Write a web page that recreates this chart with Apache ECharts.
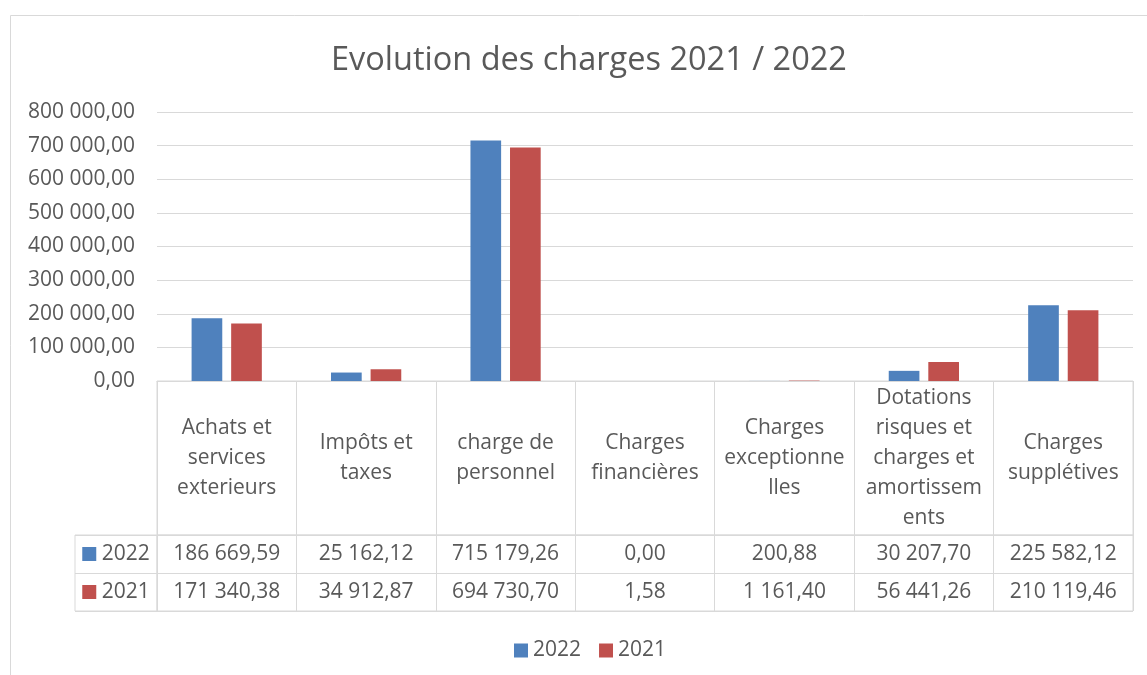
<!DOCTYPE html>
<html>
<head>
<meta charset="utf-8">
<script src="https://cdn.jsdelivr.net/npm/echarts@6/dist/echarts.min.js"></script>
<style>
html,body{margin:0;padding:0;background:#fff}
#main{width:1147px;height:675px}
</style>
</head>
<body>
<div id="main"></div>
<script>
// donnees du graphique
var categories = ['Achats et\nservices\nexterieurs', 'Impôts et\ntaxes', 'charge de\npersonnel', 'Charges\nfinancières', 'Charges\nexceptionne\nlles', 'Dotations\nrisques et\ncharges et\namortissem\nents', 'Charges\nsupplétives'];
var years = ['2022', '2021'];
var values2022 = [186669.59, 25162.12, 715179.26, 0.00, 200.88, 30207.70, 225582.12];
var values2021 = [171340.38, 34912.87, 694730.70, 1.58, 1161.40, 56441.26, 210119.46];
var yMin = 0, yMax = 800000, yStep = 100000;

var colors = ['#4F81BD', '#C0504D'];
var txt = '#595959';
var line = '#d9d9d9';
var font = 'Open Sans';
var fs = 21;

// format francais : 186 669,59
function frNum(v) {
    var parts = Number(v).toFixed(2).split('.');
    return parts[0].replace(/\B(?=(\d{3})+(?!\d))/g, ' ') + ',' + parts[1];
}

var myChart = echarts.init(document.getElementById('main'));

var hiddenAxis = {
    axisLine: {show: false}, axisTick: {show: false}, axisLabel: {show: false}
};
var cellLabel = {
    show: true, position: 'inside', color: txt, fontSize: fs, fontFamily: font,
    lineHeight: 30, formatter: function (p) { return p.name; }
};

var option = {
    animation: false,
    textStyle: {fontFamily: font},
    title: {
        text: 'Evolution des charges 2021 / 2022',
        left: 326,
        top: 39,
        textStyle: {fontSize: 32.5, fontWeight: 'normal', color: txt, fontFamily: font}
    },
    graphic: [{
        type: 'rect', shape: {x: 10.5, y: 15.5, width: 1200, height: 700},
        style: {fill: 'none', stroke: line, lineWidth: 1}, silent: true
    }],
    legend: {
        data: years,
        bottom: 9,
        left: 509,
        icon: 'rect',
        itemWidth: 14,
        itemHeight: 14,
        itemGap: 18,
        textStyle: {fontSize: fs, color: txt, fontFamily: font}
    },
    grid: [
        {left: 157, top: 112, width: 976, height: 269},
        {left: 157, top: 381, width: 976, height: 154, show: true, borderColor: line, borderWidth: 1},
        {left: 157, top: 535, width: 976, height: 76, show: true, borderColor: line, borderWidth: 1},
        {left: 75, top: 535, width: 82, height: 76, show: true, borderColor: line, borderWidth: 1}
    ],
    xAxis: [
        {gridIndex: 0, type: 'category', data: categories,
            axisLine: {lineStyle: {color: line, width: 1}}, axisTick: {show: false}, axisLabel: {show: false}},
        Object.assign({gridIndex: 1, type: 'category', data: categories,
            splitLine: {show: true, interval: 0, lineStyle: {color: line}}}, hiddenAxis),
        Object.assign({gridIndex: 2, type: 'category', data: categories,
            splitLine: {show: true, interval: 0, lineStyle: {color: line}}}, hiddenAxis),
        Object.assign({gridIndex: 3, type: 'category', data: ['serie']}, hiddenAxis)
    ],
    yAxis: [
        {gridIndex: 0, type: 'value', min: yMin, max: yMax, interval: yStep,
            axisLine: {show: false}, axisTick: {show: false},
            axisLabel: {color: txt, fontSize: fs, fontFamily: font, margin: 22,
                formatter: function (v) { return frNum(v); }},
            splitLine: {lineStyle: {color: line, width: 1}}},
        Object.assign({gridIndex: 1, type: 'value', min: -1, max: 1, splitLine: {show: false}}, hiddenAxis),
        Object.assign({gridIndex: 2, type: 'category', data: years, inverse: true,
            splitLine: {show: true, lineStyle: {color: line}}}, hiddenAxis),
        Object.assign({gridIndex: 3, type: 'category', data: years, inverse: true,
            splitLine: {show: true, lineStyle: {color: line}}}, hiddenAxis)
    ],
    series: [
        {name: '2022', type: 'bar', xAxisIndex: 0, yAxisIndex: 0, data: values2022,
            barWidth: '22%', barGap: '29%', itemStyle: {color: colors[0]}},
        {name: '2021', type: 'bar', xAxisIndex: 0, yAxisIndex: 0, data: values2021,
            barWidth: '22%', barGap: '29%', itemStyle: {color: colors[1]}},
        // ligne des categories du tableau
        {name: 'cat', type: 'scatter', xAxisIndex: 1, yAxisIndex: 1, symbolSize: 0, silent: true,
            itemStyle: {opacity: 1},
            data: categories.map(function (c, i) { return {name: c, value: [i, 0]}; }),
            label: cellLabel},
        // valeurs du tableau
        {name: 'tab2022', type: 'scatter', xAxisIndex: 2, yAxisIndex: 2, symbolSize: 0, silent: true,
            itemStyle: {opacity: 1},
            data: values2022.map(function (v, i) { return {name: frNum(v), value: [i, 0]}; }),
            label: cellLabel},
        {name: 'tab2021', type: 'scatter', xAxisIndex: 2, yAxisIndex: 2, symbolSize: 0, silent: true,
            itemStyle: {opacity: 1},
            data: values2021.map(function (v, i) { return {name: frNum(v), value: [i, 1]}; }),
            label: cellLabel},
        // entetes des lignes avec la cle de legende
        {name: 'keys', type: 'scatter', xAxisIndex: 3, yAxisIndex: 3, symbolSize: 0, silent: true,
            itemStyle: {opacity: 1},
            data: years.map(function (y, i) { return {name: y, value: [0, i]}; }),
            label: {
                show: true, position: 'inside', color: txt, fontSize: fs, fontFamily: font,
                formatter: function (p) { return (p.dataIndex === 0 ? '{a|\u2002}' : '{b|\u2002}') + ' ' + p.name; },
                rich: {
                    a: {width: 14, height: 14, backgroundColor: colors[0]},
                    b: {width: 14, height: 14, backgroundColor: colors[1]}
                }
            }}
    ]
};
myChart.setOption(option);
</script>
</body>
</html>
